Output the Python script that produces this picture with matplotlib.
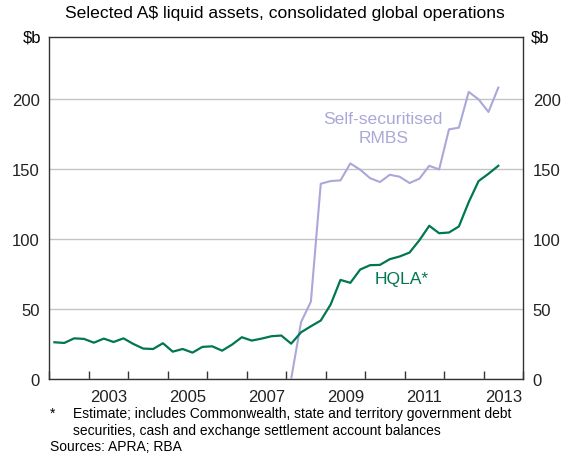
import matplotlib.pyplot as plt
import numpy as np

# --- Data (quarterly, $b) ---
start_year = 2002
hqla = [26.2, 25.7, 29.0, 28.6, 25.9, 28.8, 26.4, 29.0, 25.0, 21.7, 21.4, 25.5,
        19.5, 21.4, 18.8, 22.9, 23.3, 20.2, 24.5, 29.8, 27.4, 28.8, 30.5, 31.0,
        25.2, 33.3, 37.6, 41.7, 53.1, 70.7, 68.6, 78.1, 81.2, 81.4, 85.5, 87.4,
        90.2, 99.0, 109.3, 104.0, 104.5, 108.8, 126.2, 141.2, 146.4, 152.1]
rmbs_start = 24  # first quarter index with RMBS data
rmbs = [0.0, 40.5, 55.2, 139.3, 141.2, 141.7, 153.8, 149.3, 143.3, 140.5, 145.7,
        144.3, 139.8, 142.9, 152.1, 149.5, 178.1, 179.3, 204.8, 199.5, 190.5, 207.9]
year_labels = [2003, 2005, 2007, 2009, 2011, 2013]
y_ticks = [0, 50, 100, 150, 200]

GREEN = "#00774f"
LAVENDER = "#aaa8d8"
GRID = "#c4c4c4"

plt.rcParams.update({
    "font.family": ["Liberation Sans", "DejaVu Sans"],
    "font.size": 12,
})

fig = plt.figure(figsize=(5.7, 4.56), dpi=100)
ax = fig.add_axes([0.0868, 0.1667, 0.8307, 0.75])

x_hqla = start_year + 0.125 + 0.25 * np.arange(len(hqla))
x_rmbs = start_year + 0.125 + 0.25 * (rmbs_start + np.arange(len(rmbs)))

ax.plot(x_rmbs, rmbs, color=LAVENDER, lw=1.5, zorder=3)
ax.plot(x_hqla, hqla, color=GREEN, lw=1.6, zorder=4)

ax.set_xlim(2002, 2014)
ax.set_ylim(0, 244)

# y axis: gridlines, labels both sides, no tick marks
ax.set_yticks(y_ticks)
ax.tick_params(axis="y", length=0, pad=7, labelsize=12, colors="#222222",
               left=True, right=True, labelleft=True, labelright=True)
ax.grid(True, axis="y", color=GRID, lw=1)
ax.set_axisbelow(True)

# x axis: ticks at year boundaries inside, labels mid-year
ax.set_xticks(np.arange(2002, 2015))
ax.set_xticklabels([])
ax.tick_params(axis="x", which="major", direction="in", length=6, width=1, color="#333333")
ax.set_xticks([y + 0.5 for y in year_labels], minor=True)
ax.set_xticklabels([str(y) for y in year_labels], minor=True)
ax.tick_params(axis="x", which="minor", length=0, pad=7, labelsize=12, colors="#222222")

for s in ax.spines.values():
    s.set_color("#333333")
    s.set_linewidth(1)

# unit labels
ax.text(-0.017, 1.0, "$b", transform=ax.transAxes, ha="right", va="center", fontsize=12)
ax.text(1.017, 1.0, "$b", transform=ax.transAxes, ha="left", va="center", fontsize=12)

# series labels
ax.text(2010.46, 186, "Self-securitised", color=LAVENDER, ha="center", va="center", fontsize=12.6)
ax.text(2010.46, 172, "RMBS", color=LAVENDER, ha="center", va="center", fontsize=12.6)
ax.text(2010.93, 72, "HQLA*", color=GREEN, ha="center", va="center", fontsize=12.6)

# subtitle and notes
fig.text(0.5, 0.971, "Selected A$ liquid assets, consolidated global operations",
         ha="center", va="center", fontsize=12.6)
fig.text(50 / 570, 1 - 414 / 456, "*", ha="left", va="center", fontsize=10)
fig.text(73 / 570, 1 - 414 / 456,
         "Estimate; includes Commonwealth, state and territory government debt",
         ha="left", va="center", fontsize=10)
fig.text(73 / 570, 1 - 431 / 456,
         "securities, cash and exchange settlement account balances",
         ha="left", va="center", fontsize=10)
fig.text(50 / 570, 1 - 447 / 456, "Sources: APRA; RBA", ha="left", va="center", fontsize=10)

fig.savefig("out.png", dpi=100)
